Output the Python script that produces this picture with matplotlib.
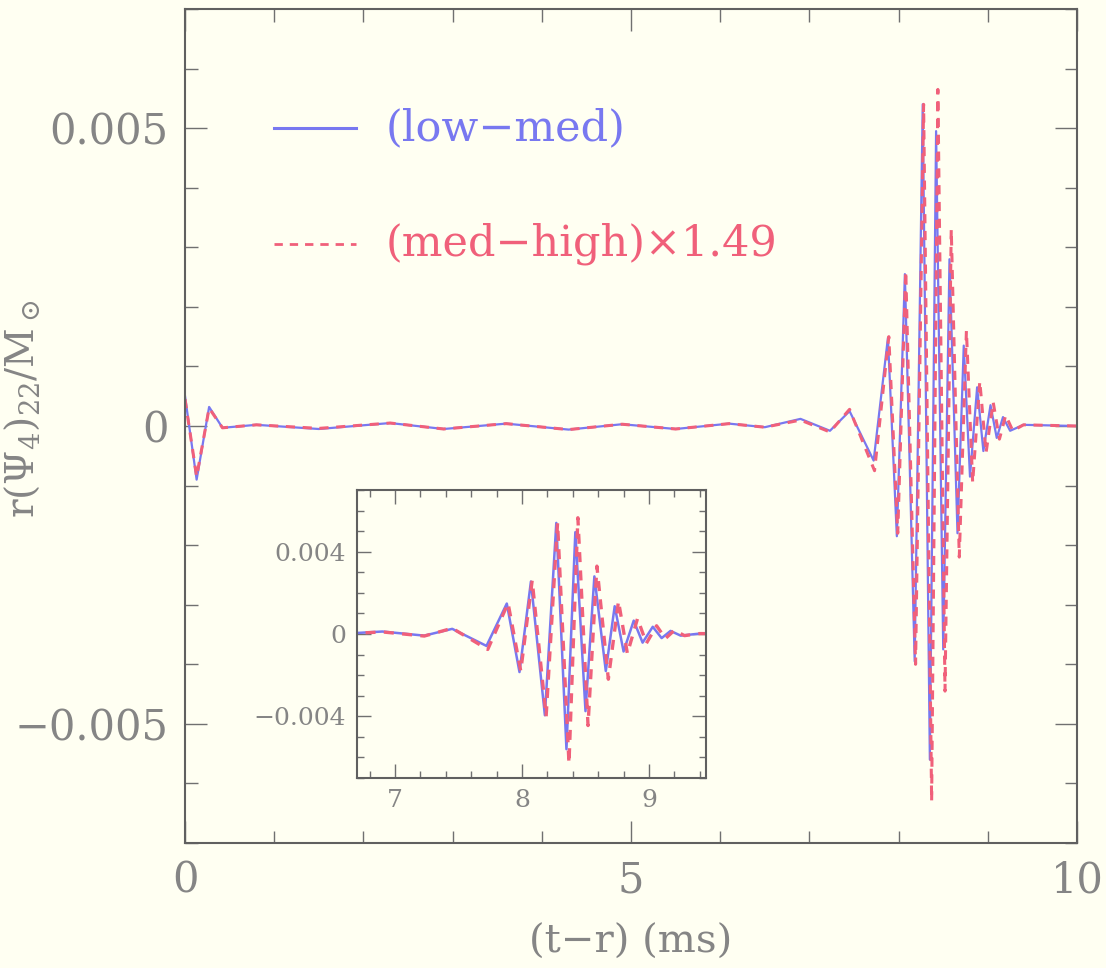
import matplotlib
matplotlib.use("Agg")
import matplotlib.pyplot as plt
from matplotlib.ticker import MultipleLocator

# waveform extrema (t in ms, value in units of M_sun)
t_low = [0.00, 0.13, 0.27, 0.42, 0.80, 1.50, 2.30, 2.90, 3.60, 4.30, 4.90, 5.50,
         6.10, 6.50, 6.90, 7.23, 7.45, 7.72, 7.88, 7.98, 8.07, 8.18, 8.27, 8.35,
         8.42, 8.50, 8.57, 8.66, 8.73, 8.80, 8.88, 8.95, 9.03, 9.10, 9.17, 9.25,
         9.40, 10.0]
v_low = [0.00050, -0.00090, 0.00032, -0.00003, 0.00002, -0.00005, 0.00005,
         -0.00005, 0.00004, -0.00006, 0.00003, -0.00005, 0.00004, -0.00002,
         0.00012, -0.00008, 0.00025, -0.00058, 0.00148, -0.00185, 0.00255,
         -0.00395, 0.00540, -0.00560, 0.00495, -0.00375, 0.00280, -0.00180,
         0.00135, -0.00085, 0.00065, -0.00042, 0.00035, -0.00020, 0.00015,
         -0.00008, 0.00002, 0.0]

t_med = [0.00, 0.13, 0.27, 0.42, 0.80, 1.50, 2.30, 2.90, 3.60, 4.30, 4.90, 5.50,
         6.10, 6.50, 6.90, 7.23, 7.45, 7.73, 7.89, 7.99, 8.08, 8.19, 8.28, 8.37,
         8.44, 8.52, 8.59, 8.68, 8.76, 8.83, 8.91, 8.98, 9.06, 9.13, 9.20, 9.28,
         9.40, 10.0]
v_med = [0.00045, -0.00085, 0.00030, -0.00003, 0.00002, -0.00004, 0.00005,
         -0.00005, 0.00004, -0.00006, 0.00003, -0.00005, 0.00004, -0.00002,
         0.00010, -0.00010, 0.00028, -0.00075, 0.00150, -0.00180, 0.00260,
         -0.00400, 0.00540, -0.00630, 0.00565, -0.00445, 0.00330, -0.00220,
         0.00160, -0.00095, 0.00075, -0.00045, 0.00040, -0.00022, 0.00018,
         -0.00008, 0.00002, 0.0]

label_low = '(low\u2212med)'
label_med = '(med\u2212high)\u00d71.49'

bg = '#fffff2'
txt = '#858585'
blue = '#7878f0'
red = '#f0607a'

plt.rcParams['font.family'] = 'DejaVu Serif'
plt.rcParams['mathtext.fontset'] = 'dejavuserif'

fig = plt.figure(figsize=(11.06, 9.68), dpi=100, facecolor=bg)


def style(ax, size, major_len, minor_len):
    ax.set_facecolor(bg)
    for s in ax.spines.values():
        s.set_color('#606060')
        s.set_linewidth(1.5)
    ax.tick_params(which='both', direction='in', top=True, right=True,
                   colors='#707070', labelcolor=txt, labelsize=size, width=1.0)
    ax.tick_params(which='major', length=major_len, pad=12)
    ax.tick_params(which='minor', length=minor_len)


ax = fig.add_axes([0.1673, 0.1291, 0.8065, 0.8616])
style(ax, 30, 16, 9)
ax.plot(t_low, v_low, color=blue, lw=1.6)
ax.plot(t_med, v_med, color=red, lw=2.2, ls=(0, (3, 2.5)))
ax.set_xlim(0, 10)
ax.set_ylim(-0.007, 0.007)
ax.set_xticks([0, 5, 10])
ax.set_xticklabels(['0', '5', '10'])
ax.xaxis.set_minor_locator(MultipleLocator(1))
ax.set_yticks([-0.005, 0, 0.005])
ax.set_yticklabels(['\u22120.005', '0', '0.005'])
ax.yaxis.set_minor_locator(MultipleLocator(0.001))
ax.set_xlabel('(t\u2212r) (ms)', fontsize=29, color=txt)
ax.xaxis.set_label_coords(0.5, -0.097)
ax.set_ylabel(r'r($\Psi_4$)$_{22}$/M$_\odot$', fontsize=28, color=txt)
ax.yaxis.set_label_coords(-0.16, 0.52)

# legend drawn by hand, like the original
ax.plot([1.0, 1.92], [0.0050, 0.0050], color=blue, lw=2.2)
ax.plot([1.0, 1.92], [0.00306, 0.00306], color=red, lw=2.0, ls=(0, (3, 2.5)))
ax.text(2.25, 0.0050, label_low, color=blue, fontsize=31, va='center')
ax.text(2.25, 0.00306, label_med, color=red, fontsize=31, va='center')

# inset zoom on the merger
axi = fig.add_axes([0.3228, 0.1963, 0.3156, 0.2975])
style(axi, 18, 10, 5)
axi.plot(t_low, v_low, color=blue, lw=1.8)
axi.plot(t_med, v_med, color=red, lw=2.4, ls=(0, (3, 2.5)))
axi.set_xlim(6.7, 9.45)
axi.set_ylim(-0.007, 0.007)
axi.set_xticks([7, 8, 9])
axi.xaxis.set_minor_locator(MultipleLocator(0.2))
axi.set_yticks([-0.004, 0, 0.004])
axi.set_yticklabels(['\u22120.004', '0', '0.004'])
axi.yaxis.set_minor_locator(MultipleLocator(0.001))
axi.tick_params(which='major', pad=8)

fig.savefig('out.png', dpi=100, facecolor=bg)
